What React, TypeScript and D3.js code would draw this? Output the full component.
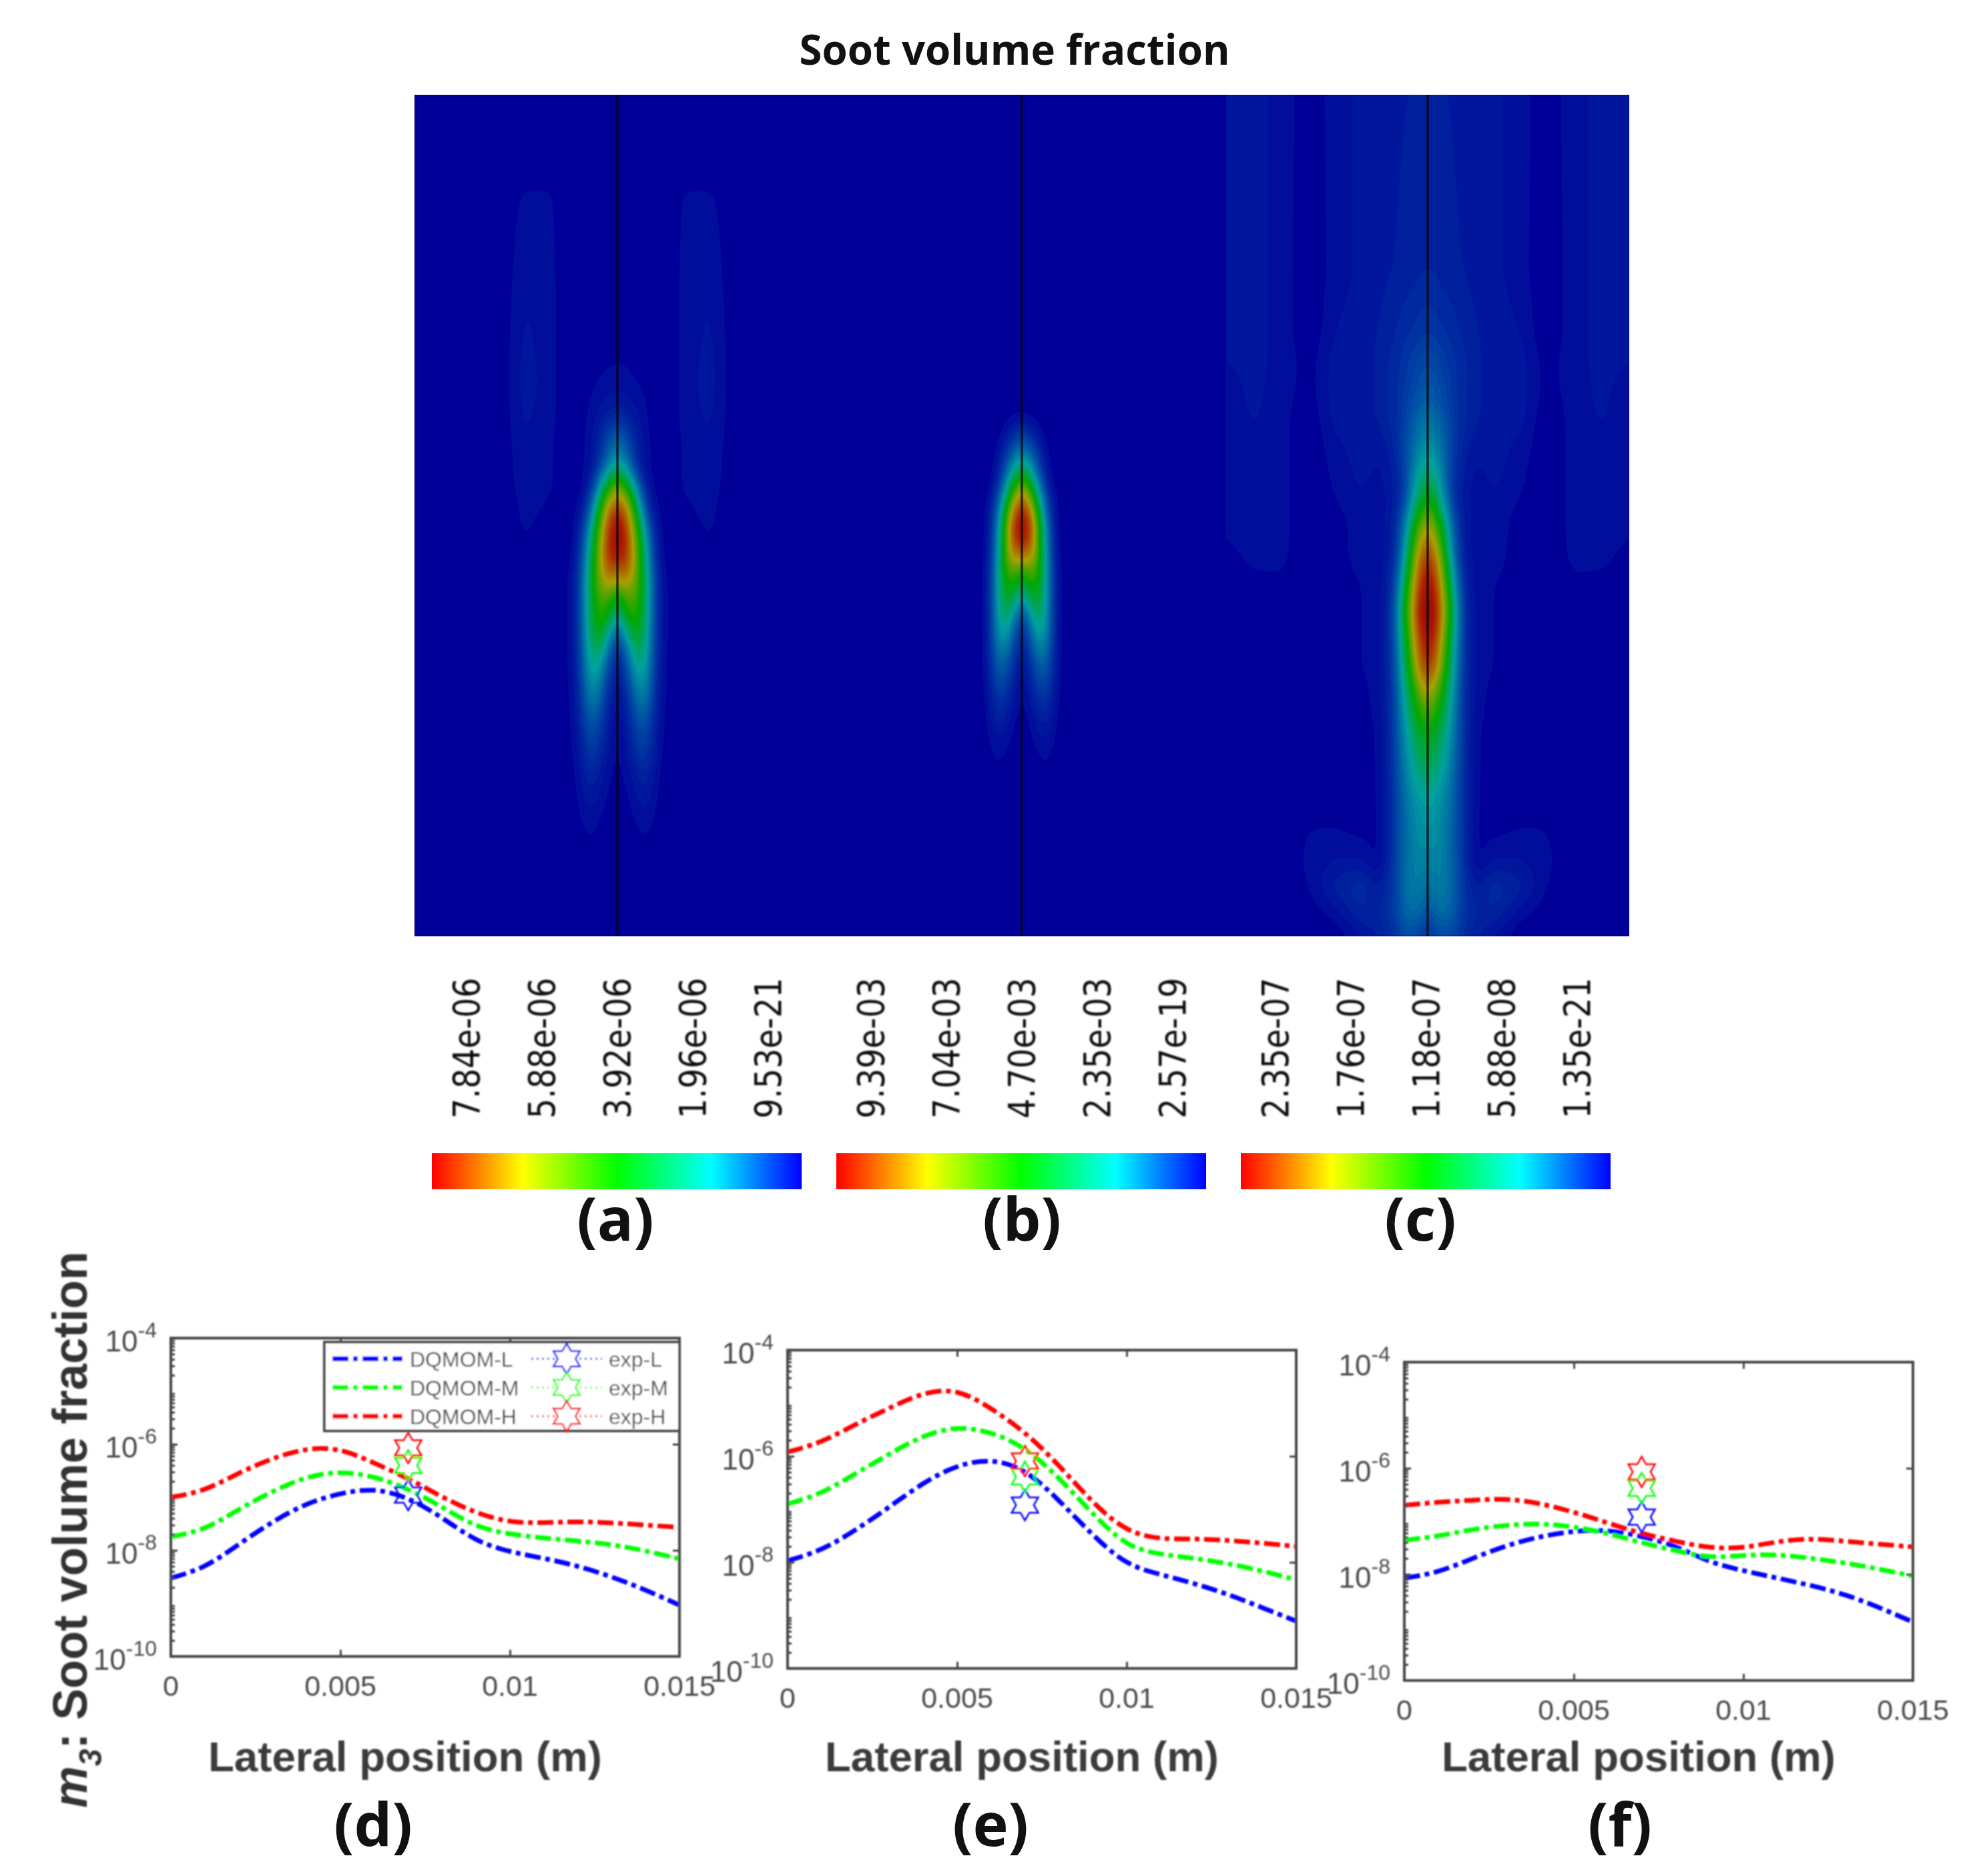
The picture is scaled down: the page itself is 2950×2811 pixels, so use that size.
import { useEffect, useRef } from 'react';
import * as d3 from 'd3';

// lateral offset from the flame axis (% of half panel width), mirrored left/right
const lateralPct = [0, 4, 8, 12, 16, 20, 25, 33, 46, 59, 73, 86, 100];

// axial position (% of panel height from top) and relative soot level per lateral offset
const axialA = [0, 7, 12.5, 24.4, 33.9, 37.9, 41, 43.6, 45.3, 47.1, 49.6, 52.4, 55.3, 57.7, 59.1, 62.3, 64.4, 67.3, 71.2, 75.1, 81.5, 87.8, 94.1, 100];
const fieldA = [
  [0, 0, 0, 0, 0, 0, 0, 0, 0, 0, 0, 0, 0],
  [0, 0, 0, 0, 0, 0, 0, 0, 0, 0, 0, 0, 0],
  [0, 0, 0, 0, 0, 0, 0, .025, .025, 0, 0, 0, 0],
  [0, 0, 0, 0, 0, 0, 0, .03, .04, 0, 0, 0, 0],
  [.025, .025, .02, .015, .01, .005, 0, .03, .05, 0, 0, 0, 0],
  [.07, .06, .05, .03, .015, .005, 0, .03, .045, 0, 0, 0, 0],
  [.22, .17, .09, .04, .02, .005, 0, .025, .04, 0, 0, 0, 0],
  [.33, .26, .12, .04, .02, .005, 0, .025, .035, 0, 0, 0, 0],
  [.5, .4, .25, .07, .02, .005, 0, .025, .035, 0, 0, 0, 0],
  [.67, .58, .42, .15, .03, .005, 0, .022, .03, 0, 0, 0, 0],
  [.87, .75, .57, .32, .08, .02, 0, .015, .025, 0, 0, 0, 0],
  [1, .85, .65, .45, .2, .03, 0, .01, .022, 0, 0, 0, 0],
  [.85, .85, .67, .5, .25, .05, 0, 0, .005, 0, 0, 0, 0],
  [.67, .72, .65, .5, .3, .07, .01, 0, 0, 0, 0, 0, 0],
  [.5, .62, .6, .5, .3, .07, .01, 0, 0, 0, 0, 0, 0],
  [.3, .45, .55, .47, .3, .07, .01, 0, 0, 0, 0, 0, 0],
  [.12, .3, .47, .45, .28, .07, .01, 0, 0, 0, 0, 0, 0],
  [.05, .15, .33, .4, .26, .06, .01, 0, 0, 0, 0, 0, 0],
  [.03, .07, .2, .3, .2, .05, .01, 0, 0, 0, 0, 0, 0],
  [.02, .04, .12, .18, .13, .04, .005, 0, 0, 0, 0, 0, 0],
  [.01, .02, .04, .07, .06, .02, 0, 0, 0, 0, 0, 0, 0],
  [0, 0, .01, .02, .02, .005, 0, 0, 0, 0, 0, 0, 0],
  [0, 0, 0, 0, 0, 0, 0, 0, 0, 0, 0, 0, 0],
  [0, 0, 0, 0, 0, 0, 0, 0, 0, 0, 0, 0, 0],
];

const axialB = [0, 36.3, 38.6, 41, 43.3, 45.3, 46.8, 49.2, 51.3, 53.8, 55.2, 56.7, 59.1, 62.4, 63.7, 68, 72.6, 76.7, 81.5, 85.4, 100];
const fieldB = [
  [0, 0, 0, 0, 0, 0, 0, 0, 0, 0, 0, 0, 0],
  [0, 0, 0, 0, 0, 0, 0, 0, 0, 0, 0, 0, 0],
  [.03, .02, .01, 0, 0, 0, 0, 0, 0, 0, 0, 0, 0],
  [.17, .12, .05, .01, 0, 0, 0, 0, 0, 0, 0, 0, 0],
  [.33, .27, .12, .03, 0, 0, 0, 0, 0, 0, 0, 0, 0],
  [.5, .42, .22, .05, 0, 0, 0, 0, 0, 0, 0, 0, 0],
  [.67, .55, .33, .09, .01, 0, 0, 0, 0, 0, 0, 0, 0],
  [.87, .72, .5, .2, .03, 0, 0, 0, 0, 0, 0, 0, 0],
  [1, .82, .58, .27, .04, 0, 0, 0, 0, 0, 0, 0, 0],
  [.85, .78, .58, .3, .05, 0, 0, 0, 0, 0, 0, 0, 0],
  [.67, .7, .58, .32, .06, 0, 0, 0, 0, 0, 0, 0, 0],
  [.5, .6, .55, .33, .07, 0, 0, 0, 0, 0, 0, 0, 0],
  [.33, .47, .5, .34, .08, 0, 0, 0, 0, 0, 0, 0, 0],
  [.08, .28, .42, .32, .08, 0, 0, 0, 0, 0, 0, 0, 0],
  [.05, .2, .36, .31, .08, 0, 0, 0, 0, 0, 0, 0, 0],
  [.02, .08, .2, .2, .07, 0, 0, 0, 0, 0, 0, 0, 0],
  [.01, .03, .08, .1, .04, 0, 0, 0, 0, 0, 0, 0, 0],
  [0, .01, .03, .04, .02, 0, 0, 0, 0, 0, 0, 0, 0],
  [0, 0, 0, .01, 0, 0, 0, 0, 0, 0, 0, 0, 0],
  [0, 0, 0, 0, 0, 0, 0, 0, 0, 0, 0, 0, 0],
  [0, 0, 0, 0, 0, 0, 0, 0, 0, 0, 0, 0, 0],
];

const axialC = [0, 21.4, 28, 31.9, 35.8, 38.4, 40.3, 43.1, 47.7, 51, 54.9, 56.9, 58.5, 61.5, 68, 71.3, 75.9, 83.8, 87, 91, 94.3, 98.1, 100];
const fieldC = [
  [.06, .06, .06, .06, .05, .05, .045, .045, .03, .005, .035, .045, .045],
  [.08, .08, .07, .07, .06, .06, .05, .045, .03, 0, .035, .045, .045],
  [.12, .11, .1, .09, .08, .07, .06, .05, .04, 0, .035, .045, .04],
  [.16, .15, .13, .11, .09, .08, .06, .055, .05, .01, .035, .045, .04],
  [.2, .18, .15, .12, .09, .08, .06, .055, .05, .01, .03, .045, .03],
  [.24, .22, .18, .13, .09, .08, .06, .055, .05, 0, .03, .042, .03],
  [.28, .25, .2, .14, .09, .07, .05, .05, .04, 0, .03, .038, .03],
  [.33, .3, .22, .13, .08, .05, .04, .05, .03, 0, .03, .03, .03],
  [.5, .42, .28, .12, .06, .04, .03, .04, .02, 0, .03, .03, .025],
  [.67, .58, .42, .22, .08, .04, .03, .03, .01, 0, .03, .03, .022],
  [.85, .72, .55, .3, .1, .04, .03, .03, .01, 0, .028, .024, .016],
  [.9, .78, .58, .36, .13, .05, .03, .025, .005, 0, .02, .02, .01],
  [.95, .82, .62, .42, .16, .05, .03, .02, 0, 0, .012, .012, .005],
  [1, .88, .66, .47, .2, .06, .03, .02, 0, 0, 0, 0, 0],
  [.85, .74, .56, .38, .18, .06, .03, .02, 0, 0, 0, 0, 0],
  [.67, .6, .47, .33, .16, .06, .03, .01, 0, 0, 0, 0, 0],
  [.5, .46, .38, .28, .15, .06, .02, .01, 0, 0, 0, 0, 0],
  [.33, .32, .28, .22, .13, .06, .02, 0, 0, 0, 0, 0, 0],
  [.3, .3, .26, .21, .13, .06, .015, .01, .02, .02, 0, 0, 0],
  [.26, .28, .26, .21, .14, .06, .012, .04, .04, .025, .005, 0, 0],
  [.22, .26, .26, .22, .14, .09, .06, .1, .07, .02, 0, 0, 0],
  [.15, .2, .22, .2, .13, .1, .08, .07, .02, 0, 0, 0, 0],
  [.08, .12, .15, .13, .1, .08, .05, .03, 0, 0, 0, 0, 0],
];

const mapStops = [0, .17, .33, .5, .67, .85, 1];
const mapColors = ['#000099', '#004ea5', '#00a0a0', '#00a800', '#a8a000', '#b02000', '#800000'];

const barStops = [0, .245, .5, .755, 1];
const barColors = ['#ff0000', '#ffff00', '#00ff00', '#00ffff', '#0000ff'];

const barLabelsA = ['7.84e-06', '5.88e-06', '3.92e-06', '1.96e-06', '9.53e-21'];
const barLabelsB = ['9.39e-03', '7.04e-03', '4.70e-03', '2.35e-03', '2.57e-19'];
const barLabelsC = ['2.35e-07', '1.76e-07', '1.18e-07', '5.88e-08', '1.35e-21'];

// lateral position (m) shared by all curves
const xValues = [0, .001, .002, .003, .004, .005, .006, .007, .008, .009, .01, .011, .012, .013, .014, .015];

const redD = [1.0e-7, 1.3e-7, 2.9e-7, 5.5e-7, 8.5e-7, 8.5e-7, 4.4e-7, 2.3e-7, 1.0e-7, 5.0e-8, 3.3e-8, 3.3e-8, 3.5e-8, 3.3e-8, 3.0e-8, 2.7e-8];
const greenD = [1.8e-8, 2.4e-8, 6.0e-8, 1.3e-7, 2.5e-7, 3.1e-7, 2.5e-7, 1.45e-7, 6.6e-8, 2.7e-8, 2.0e-8, 1.7e-8, 1.5e-8, 1.3e-8, 9.8e-9, 6.9e-9];
const blueD = [3.0e-9, 4.6e-9, 1.3e-8, 3.5e-8, 7.8e-8, 1.2e-7, 1.5e-7, 1.0e-7, 4.2e-8, 1.45e-8, 9.3e-9, 7.1e-9, 5.1e-9, 3.2e-9, 1.8e-9, 9.3e-10];

const redE = [1.2e-6, 1.8e-6, 4.0e-6, 8.1e-6, 1.6e-5, 1.9e-5, 8.1e-6, 2.9e-6, 6.9e-7, 1.3e-7, 3.7e-8, 2.7e-8, 2.8e-8, 2.6e-8, 2.3e-8, 2.0e-8];
const greenE = [1.26e-7, 1.95e-7, 4.7e-7, 1.1e-6, 2.5e-6, 3.7e-6, 2.9e-6, 1.5e-6, 4.0e-7, 8.1e-8, 1.95e-8, 1.4e-8, 1.2e-8, 9.5e-9, 6.9e-9, 4.7e-9];
const blueE = [1.07e-8, 1.66e-8, 4.0e-8, 1.1e-7, 3.2e-7, 6.9e-7, 9.0e-7, 5.9e-7, 1.5e-7, 3.2e-8, 8.7e-9, 5.9e-9, 4.0e-9, 2.5e-9, 1.4e-9, 7.8e-10];

const redF = [2.0e-7, 2.3e-7, 2.5e-7, 2.7e-7, 2.2e-7, 1.5e-7, 9.3e-8, 5.8e-8, 4.2e-8, 3.1e-8, 3.1e-8, 4.2e-8, 4.8e-8, 4.2e-8, 3.7e-8, 3.3e-8];
const greenF = [4.4e-8, 5.2e-8, 7.1e-8, 8.5e-8, 9.2e-8, 7.9e-8, 6.0e-8, 3.9e-8, 2.8e-8, 2.0e-8, 2.3e-8, 2.4e-8, 2.0e-8, 1.66e-8, 1.26e-8, 9.3e-9];
const blueF = [8.5e-9, 1.07e-8, 2.0e-8, 3.5e-8, 5.2e-8, 6.6e-8, 7.0e-8, 5.2e-8, 3.5e-8, 1.66e-8, 1.17e-8, 8.5e-9, 6.2e-9, 4.2e-9, 2.4e-9, 1.26e-9];

// measured points at x = 0.007 m: low, mid, high
const expX = 0.007;
const expD = [1.1e-7, 4.0e-7, 8.5e-7];
const expE = [1.2e-7, 4.1e-7, 8.1e-7];
const expF = [1.2e-7, 4.2e-7, 8.5e-7];

const seriesColors = ['#0000ff', '#00ff00', '#ff0000'];
const modelNames = ['DQMOM-L', 'DQMOM-M', 'DQMOM-H'];
const expNames = ['exp-L', 'exp-M', 'exp-H'];

const xTicks = [0, .005, .01, .015];
const xTickLabels = ['0', '0.005', '0.01', '0.015'];
const yExponents = [-4, -6, -8, -10];

const sans = '"Liberation Sans", Arial, sans-serif';
const labelFont = '"Open Sans", sans-serif';
const dashLine = '24,7,7,7';
const tickGray = '#4a4a4a';

function hexagram(r: number) {
  const pts = d3.range(12).map(i => [i * Math.PI / 6, i % 2 ? r / Math.sqrt(3) : r] as [number, number]);
  return d3.lineRadial().curve(d3.curveLinearClosed)(pts) as string;
}

function drawFlame(g: any, field: number[][], axial: number[], cx: number, halfW: number, top: number, height: number, color: any) {
  const stepX = 3;
  const stepY = 4;
  const w = Math.round(2 * halfW / stepX);
  const h = Math.round(height / stepY);
  const columns = lateralPct.map((_, c) => d3.scaleLinear().domain(axial).range(field.map(r => r[c])));
  const data = new Float64Array(w * h);
  for (let j = 0; j < h; j++) {
    const a = (j + .5) / h * 100;
    const across = d3.scaleLinear().domain(lateralPct).range(columns.map(s => s(a))).clamp(true);
    for (let i = 0; i < w; i++) {
      const off = Math.abs((i + .5) * stepX - halfW) / halfW * 100;
      data[j * w + i] = across(off);
    }
  }
  d3.blur2({ data, width: w, height: h }, 1.5, 2.5);

  const levels = d3.range(1, 50).map(i => i / 50);
  const contours = d3.contours().size([w, h]).thresholds(levels)(Array.from(data));
  const path = d3.geoPath();
  g.append('g')
    .attr('transform', `translate(${cx - halfW},${top}) scale(${stepX},${stepY})`)
    .selectAll('path')
    .data(contours)
    .join('path')
    .attr('d', (d: any) => path(d))
    .attr('fill', (d: any) => color(d.value + .01));
}

function drawColorBar(svg: any, labels: string[], left: number) {
  const barW = 554;
  const x = d3.scalePoint().domain(labels).range([left + 49, left + 501]);
  svg.append('rect')
    .attr('x', left).attr('y', 1728)
    .attr('width', barW).attr('height', 54)
    .attr('fill', 'url(#jetBar)');
  const g = svg.append('g').attr('filter', 'url(#soft)');
  labels.forEach(l => {
    g.append('text')
      .attr('transform', `translate(${(x(l) as number) + 22},1676) rotate(-90)`)
      .attr('font-family', '"DejaVu Sans", sans-serif')
      .attr('font-size', 56)
      .attr('textLength', 211)
      .attr('lengthAdjust', 'spacingAndGlyphs')
      .attr('fill', '#111')
      .text(l);
  });
}

function drawPlot(svg: any, left: number, top: number, curves: number[][], exp: number[], withLegend: boolean) {
  const pw = 762;
  const ph = 477;
  const x = d3.scaleLinear().domain([0, .015]).range([left, left + pw]);
  const y = d3.scaleLog().domain([1e-10, 1e-4]).range([top + ph, top]);
  const g = svg.append('g').attr('filter', 'url(#blurry)');

  const line = d3.line<number>()
    .x((_, i) => x(xValues[i]))
    .y(d => y(d))
    .curve(d3.curveBasis);

  curves.forEach((c, i) => {
    g.append('path')
      .datum(c)
      .attr('fill', 'none')
      .attr('stroke', seriesColors[i])
      .attr('stroke-width', 7)
      .attr('stroke-dasharray', dashLine)
      .attr('d', line);
  });

  exp.forEach((v, i) => {
    g.append('path')
      .attr('transform', `translate(${x(expX)},${y(v)})`)
      .attr('d', hexagram(23))
      .attr('fill', 'none')
      .attr('stroke', seriesColors[i])
      .attr('stroke-width', 2.5);
  });

  // log minor ticks on the left edge
  const minor = d3.range(-10, -4).flatMap(e => d3.range(2, 10).map(m => m * Math.pow(10, e)));
  const majors = yExponents.map(e => Math.pow(10, e));
  const axes: any[] = [
    [d3.axisLeft(y).tickValues(minor).tickSize(-6), left, 0],
    [d3.axisLeft(y).tickValues(majors).tickSize(-10), left, 0],
    [d3.axisRight(y).tickValues(majors).tickSize(-10), left + pw, 0],
    [d3.axisBottom(x).tickValues(xTicks).tickSize(-10), 0, top + ph],
    [d3.axisTop(x).tickValues(xTicks).tickSize(-10), 0, top],
  ];
  axes.forEach(([axis, tx, ty]) => {
    const a = g.append('g')
      .attr('transform', `translate(${tx},${ty})`)
      .call(axis.tickFormat(() => ''));
    a.selectAll('line').attr('stroke', '#444').attr('stroke-width', 3);
    a.select('.domain').remove();
  });

  g.append('rect')
    .attr('x', left).attr('y', top)
    .attr('width', pw).attr('height', ph)
    .attr('fill', 'none')
    .attr('stroke', '#444')
    .attr('stroke-width', 4);

  xTicks.forEach((t, i) => {
    g.append('text')
      .attr('x', x(t)).attr('y', top + ph + 59)
      .attr('text-anchor', 'middle')
      .attr('font-family', sans).attr('font-size', 43)
      .attr('fill', tickGray)
      .text(xTickLabels[i]);
  });

  yExponents.forEach(e => {
    const t = g.append('text')
      .attr('x', left - 21).attr('y', y(Math.pow(10, e)) + 20)
      .attr('text-anchor', 'end')
      .attr('font-family', sans).attr('font-size', 44)
      .attr('fill', tickGray);
    t.append('tspan').text('10');
    t.append('tspan').attr('dy', -21).attr('font-size', 32).text(String(e));
  });

  g.append('text')
    .attr('x', left + 351).attr('y', 2654)
    .attr('text-anchor', 'middle')
    .attr('font-family', sans).attr('font-weight', 'bold').attr('font-size', 63)
    .attr('textLength', 590).attr('lengthAdjust', 'spacingAndGlyphs')
    .attr('fill', '#3a3a3a')
    .text('Lateral position (m)');

  if (withLegend) {
    const legend = g.append('g');
    legend.append('rect')
      .attr('x', left + 230).attr('y', top + 6)
      .attr('width', pw - 230).attr('height', 133)
      .attr('fill', '#fff')
      .attr('stroke', '#444')
      .attr('stroke-width', 4);
    const row = d3.scalePoint().domain(modelNames).range([top + 31, top + 117]);
    modelNames.forEach((name, i) => {
      const ry = row(name) as number;
      legend.append('line')
        .attr('x1', left + 242).attr('x2', left + 347).attr('y1', ry).attr('y2', ry)
        .attr('stroke', seriesColors[i]).attr('stroke-width', 7)
        .attr('stroke-dasharray', dashLine);
      legend.append('text')
        .attr('x', left + 358).attr('y', ry + 12)
        .attr('font-family', sans).attr('font-size', 32).attr('fill', tickGray)
        .text(name);
      legend.append('line')
        .attr('x1', left + 540).attr('x2', left + 646).attr('y1', ry).attr('y2', ry)
        .attr('stroke', seriesColors[i]).attr('stroke-width', 2.5)
        .attr('stroke-dasharray', '3,5');
      legend.append('path')
        .attr('transform', `translate(${left + 593},${ry})`)
        .attr('d', hexagram(23))
        .attr('fill', '#fff')
        .attr('stroke', seriesColors[i]).attr('stroke-width', 2.5);
      legend.append('text')
        .attr('x', left + 656).attr('y', ry + 12)
        .attr('font-family', sans).attr('font-size', 32).attr('fill', tickGray)
        .text(expNames[i]);
    });
  }
}

export default function App() {
  const svgRef = useRef<SVGSVGElement>(null);

  useEffect(() => {
    if (!svgRef.current) return;
    const svg = d3.select(svgRef.current);
    svg.selectAll('*').remove();

    const defs = svg.append('defs');
    const gradient = defs.append('linearGradient').attr('id', 'jetBar');
    barStops.forEach((s, i) => {
      gradient.append('stop').attr('offset', s).attr('stop-color', barColors[i]);
    });
    defs.append('filter').attr('id', 'blurry')
      .attr('x', '-5%').attr('y', '-5%').attr('width', '110%').attr('height', '110%')
      .append('feGaussianBlur').attr('stdDeviation', 1.3);
    defs.append('filter').attr('id', 'soft')
      .attr('x', '-5%').attr('y', '-5%').attr('width', '110%').attr('height', '110%')
      .append('feGaussianBlur').attr('stdDeviation', .9);

    svg.append('rect').attr('width', 2950).attr('height', 2811).attr('fill', '#fff');

    svg.append('text')
      .attr('x', 1520).attr('y', 97)
      .attr('text-anchor', 'middle')
      .attr('font-family', labelFont).attr('font-weight', 'bold').attr('font-size', 62)
      .attr('textLength', 645).attr('lengthAdjust', 'spacingAndGlyphs')
      .attr('fill', '#111')
      .text('Soot volume fraction');

    // contour panel
    const mapLeft = 621;
    const mapTop = 142;
    const mapW = 1820;
    const mapH = 1261;
    const color = d3.scaleLinear<string>().domain(mapStops).range(mapColors).clamp(true);
    svg.append('rect')
      .attr('x', mapLeft).attr('y', mapTop)
      .attr('width', mapW).attr('height', mapH)
      .attr('fill', mapColors[0]);
    const map = svg.append('g');
    const flameCentres = [925, 1531, 2139];
    drawFlame(map, fieldA, axialA, flameCentres[0], 303, mapTop, mapH, color);
    drawFlame(map, fieldB, axialB, flameCentres[1], 303, mapTop, mapH, color);
    drawFlame(map, fieldC, axialC, flameCentres[2], 302, mapTop, mapH, color);
    flameCentres.forEach(cx => {
      svg.append('line')
        .attr('x1', cx).attr('x2', cx).attr('y1', mapTop).attr('y2', mapTop + mapH)
        .attr('stroke', '#000').attr('stroke-opacity', .7).attr('stroke-width', 3.5);
    });

    drawColorBar(svg, barLabelsA, 647);
    drawColorBar(svg, barLabelsB, 1253);
    drawColorBar(svg, barLabelsC, 1859);

    const tags: [string, number, number][] = [
      ['(a)', 922, 1859], ['(b)', 1531, 1859], ['(c)', 2128, 1859],
      ['(d)', 559, 2766], ['(e)', 1484, 2766], ['(f)', 2427, 2766],
    ];
    tags.forEach(([t, tx, ty]) => {
      svg.append('text')
        .attr('x', tx).attr('y', ty)
        .attr('text-anchor', 'middle')
        .attr('font-family', labelFont).attr('font-weight', 'bold').attr('font-size', 90)
        .attr('fill', '#111')
        .text(t);
    });

    drawPlot(svg, 256, 2005, [blueD, greenD, redD], expD, true);
    drawPlot(svg, 1180, 2023, [blueE, greenE, redE], expE, false);
    drawPlot(svg, 2104, 2041, [blueF, greenF, redF], expF, false);

    // shared y label
    const yLabelGroup = svg.append('g').attr('filter', 'url(#soft)');
    const yLabel = yLabelGroup.append('text')
      .attr('transform', 'translate(130,2709) rotate(-90)')
      .attr('font-family', sans).attr('font-weight', 'bold').attr('font-size', 73)
      .attr('textLength', 834).attr('lengthAdjust', 'spacingAndGlyphs')
      .attr('fill', '#333');
    yLabel.append('tspan').attr('font-style', 'italic').text('m');
    yLabel.append('tspan').attr('dy', 22).attr('font-size', 48).attr('font-style', 'italic').text('3');
    yLabel.append('tspan').attr('dy', -22).text(': Soot volume fraction');
  }, []);

  return (
    <svg
      ref={svgRef}
      width={2950}
      height={2811}
      style={{ position: 'absolute', left: 0, top: 0, display: 'block' }}
    />
  );
}
